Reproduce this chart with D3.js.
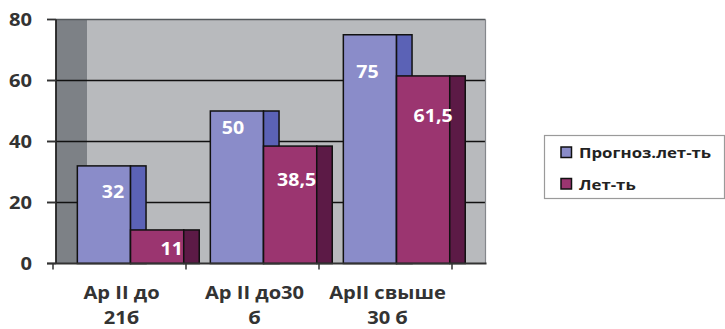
<!DOCTYPE html>
<html><head><meta charset="utf-8">
<script src="https://cdn.jsdelivr.net/npm/d3@7"></script>
<style>html,body{margin:0;padding:0;background:#fff;}svg{display:block;}</style>
</head><body>
<script>
// ---- data ----
const categories = [["Ap II до", "21б"], ["Ap II до30", "б"], ["ApII свыше", "30 б"]];
const seriesNames = ["Прогноз.лет-ть", "Лет-ть"];
const forecast = [32, 50, 75];
const actual = [11, 38.5, 61.5];
const valueLabels = [["32", "50", "75"], ["11", "38,5", "61,5"]];
const yTicks = [0, 20, 40, 60, 80];

// ---- layout / style ----
const W = 725, H = 329;
const frontColors = ["#8a8cc9", "#9b3570"];
const sideColors = ["#5b62b6", "#5c1a46"];
const labelDx = [[9, -4, -2.5], [14.5, 6.5, 10]];
const labelDy = [[26.5, 16.5, 37], [19, 34, 40]];

const svg = d3.select("body").append("svg").attr("width", W).attr("height", H);
const font = "'Open Sans', sans-serif";

const y = d3.scaleLinear().domain([0, 80]).range([263.5, 19.5]);
const x = d3.scaleBand().domain(d3.range(categories.length)).range([53, 452]).padding(0);
const bw = x.bandwidth();
const barW = bw * 0.4, barOff = bw * 0.183, depth = 15.5;
const shift = 33.5; // 3D back-wall offset

const plotL = 56, plotR = x.range()[1] + shift;

// back wall
svg.append("rect").attr("x", plotL).attr("y", y(80)).attr("width", plotR - plotL).attr("height", y(0) - y(80)).attr("fill", "#b8babd");
// side wall
svg.append("rect").attr("x", plotL).attr("y", y(80)).attr("width", shift - 2.5).attr("height", y(0) - y(80)).attr("fill", "#7d8186");

// gridlines
yTicks.forEach(t => {
  if (t === 0) return;
  svg.append("line").attr("x1", 47).attr("x2", plotR).attr("y1", y(t)).attr("y2", y(t))
    .attr("stroke", t === 80 ? "#55595c" : "#111").attr("stroke-width", t === 80 ? 1.3 : 1.5);
});
// right border
svg.append("line").attr("x1", plotR).attr("x2", plotR).attr("y1", y(80)).attr("y2", y(0)).attr("stroke", "#85888c").attr("stroke-width", 1.2);
// y axis line
svg.append("line").attr("x1", plotL).attr("x2", plotL).attr("y1", y(80)).attr("y2", y(0)).attr("stroke", "#222").attr("stroke-width", 1.8);

function txt(str, tx, ty, size, sx, anchor, fill) {
  return svg.append("text").attr("transform", `translate(${tx},${ty}) scale(${sx},1)`)
    .attr("text-anchor", anchor).attr("font-family", font).attr("font-weight", "bold")
    .attr("font-size", size).attr("fill", fill).text(str);
}

// bars
const series = [forecast, actual];
categories.forEach((c, i) => {
  series.forEach((vals, s) => {
    const v = vals[i];
    const bx = x(i) + barOff + s * barW;
    const top = y(v), bot = y(0);
    svg.append("rect").attr("x", bx).attr("y", top).attr("width", barW).attr("height", bot - top)
      .attr("fill", frontColors[s]).attr("stroke", "#111").attr("stroke-width", 1.5);
    svg.append("rect").attr("x", bx + barW).attr("y", top).attr("width", depth).attr("height", bot - top)
      .attr("fill", sideColors[s]).attr("stroke", "#111").attr("stroke-width", 1.5);
  });
});

// x axis
svg.append("line").attr("x1", 47).attr("x2", plotR + 1).attr("y1", y(0)).attr("y2", y(0)).attr("stroke", "#333").attr("stroke-width", 1.8);
x.domain().concat([categories.length]).forEach(k => {
  const tx = k < categories.length ? x(k) : x.range()[1];
  svg.append("line").attr("x1", tx).attr("x2", tx).attr("y1", y(0)).attr("y2", y(0) + 6).attr("stroke", "#333").attr("stroke-width", 1.5);
});
yTicks.forEach(t => {
  svg.append("line").attr("x1", 47).attr("x2", plotL).attr("y1", y(t)).attr("y2", y(t)).attr("stroke", "#333").attr("stroke-width", 1.5);
  txt(String(t), 32, y(t) + 6.5, 18, 1.12, "end", "#333");
});

// data labels
series.forEach((vals, s) => {
  vals.forEach((v, i) => {
    const cx = x(i) + barOff + s * barW + barW / 2 + labelDx[s][i];
    const cy = y(v) + labelDy[s][i];
    txt(valueLabels[s][i], cx, cy + 6, 17, 1.15, "middle", "#fff");
  });
});

// category labels
categories.forEach((c, i) => {
  const cx = x(i) + bw / 2 + 2;
  txt(c[0], cx, 299, 17.5, 1.15, "middle", "#333");
  txt(c[1], cx, 324, 17.5, 1.15, "middle", "#333");
});

// legend
svg.append("rect").attr("x", 544.5).attr("y", 135.5).attr("width", 180).attr("height", 63)
  .attr("fill", "#fff").attr("stroke", "#9a9a9a").attr("stroke-width", 1.2);
seriesNames.forEach((n, s) => {
  const ly = 147 + s * 31.5;
  svg.append("rect").attr("x", 561).attr("y", ly).attr("width", 10.5).attr("height", 10.5)
    .attr("fill", frontColors[s]).attr("stroke", "#111").attr("stroke-width", 1.5);
  txt(n, 579, ly + 11, 15, 1.12, "start", "#222");
});
</script>
</body></html>
